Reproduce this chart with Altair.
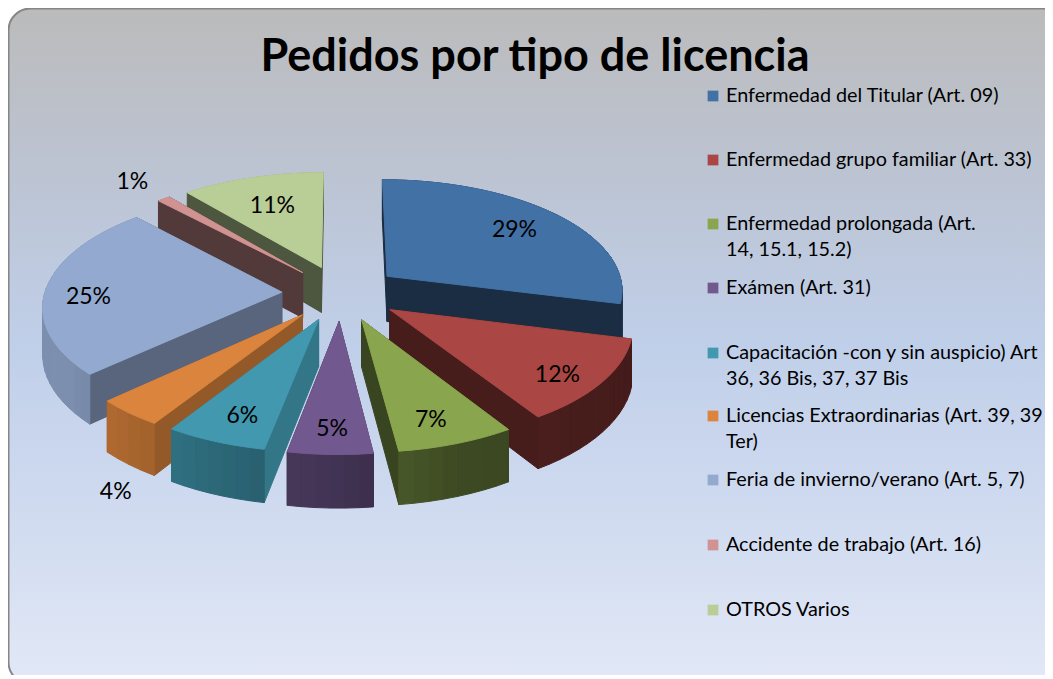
import math
import altair as alt

title_text = "Pedidos por tipo de licencia"
legend_lines = [
    ["Enfermedad del Titular (Art. 09)"],
    ["Enfermedad grupo familiar (Art. 33)"],
    ["Enfermedad prolongada (Art.", "14, 15.1, 15.2)"],
    ["Exámen (Art. 31)"],
    ["Capacitación -con y sin auspicio) Art", "36, 36 Bis, 37, 37 Bis"],
    ["Licencias Extraordinarias (Art. 39, 39", "Ter)"],
    ["Feria de invierno/verano (Art. 5, 7)"],
    ["Accidente de trabajo (Art. 16)"],
    ["OTROS Varios"],
]
shares = [29, 12, 7, 5, 6, 4, 25, 1, 11]
colors = ["#4271A6", "#AA4643", "#89A54E", "#71588F", "#4198AF",
          "#DB843D", "#93A9CF", "#D19392", "#B9CD96"]
side_shade = [0.40, 0.42, 0.42, 0.55, 0.78, 0.68, 0.60, 0.40, 0.42]
label_radius = [0.74, 0.80, 0.75, 0.81, 0.76, 1.07, 0.82, 1.25, 0.69]
label_drop = [0, 8, 10, 2, 6, 71, 8, 0, 2]

# Page pixels minus the 8 px page margin
CX, CY, RX, RY, PERSP, EXPLODE, DEPTH = 333, 285, 237, 111, 0.113, 0.25, 46
LEG_X, LEG_TEXT_X = 705, 718
LEG_ROWS = [88, 152, 216, 280, 345, 408, 472, 537, 602]


def scale_of(Y):
    return 1 / (1 + PERSP * Y)


def project(X, Y):
    s = scale_of(Y)
    return CX + RX * X * s, CY - RY * Y * s, s


def shade(hex_color, f):
    r, g, b = [int(hex_color[i:i + 2], 16) for i in (1, 3, 5)]
    return "#%02x%02x%02x" % (int(r * f), int(g * f), int(b * f))


def rim_factor(t):
    knots = [(0, .4), (90, .4), (135, .42), (160, .45), (180, .58), (200, .68), (235, .85), (360, .85)]
    for (a, fa), (b, fb) in zip(knots, knots[1:]):
        if a <= t <= b:
            return fa + (fb - fa) * (t - a) / (b - a)
    return .5


def feature(points, fill):
    ring = [[round(x, 2), round(y, 2)] for x, y in points]
    ring.append(ring[0])
    return {"type": "Feature", "properties": {"fill": fill},
            "geometry": {"type": "Polygon", "coordinates": [ring]}}


slices = []
cum = 0
for i, v in enumerate(shares):
    start, end = cum * 3.6, (cum + v) * 3.6
    cum += v
    mid = math.radians((start + end) / 2)
    ax, ay = EXPLODE * math.sin(mid), EXPLODE * math.cos(mid)
    slices.append(dict(i=i, start=start, end=end, mid=mid, ax=ax, ay=ay))

features = []
for sl in sorted(slices, key=lambda d: -d["ay"]):
    col = colors[sl["i"]]
    ax, ay = sl["ax"], sl["ay"]

    def rim(t_deg):
        t = math.radians(t_deg)
        return ax + math.sin(t), ay + math.cos(t)

    n = max(2, int((sl["end"] - sl["start"]) / 3))
    angles = [sl["start"] + (sl["end"] - sl["start"]) * j / n for j in range(n + 1)]

    quads = []
    for a, b in zip(angles, angles[1:]):
        X0, Y0 = rim(a)
        X1, Y1 = rim(b)
        x0, y0, s0 = project(X0, Y0)
        x1, y1, s1 = project(X1, Y1)
        quads.append(((Y0 + Y1) / 2,
                      [(x0, y0), (x1, y1), (x1, y1 + DEPTH * s1), (x0, y0 + DEPTH * s0)],
                      shade(col, rim_factor((a + b) / 2))))
    px, py, ps = project(ax, ay)
    for t in (sl["start"], sl["end"]):
        X1, Y1 = rim(t)
        x1, y1, s1 = project(X1, Y1)
        quads.append(((ay + Y1) / 2,
                      [(px, py), (x1, y1), (x1, y1 + DEPTH * s1), (px, py + DEPTH * ps)],
                      shade(col, side_shade[sl["i"]])))
    for _, pts, fill in sorted(quads, key=lambda q: -q[0]):
        features.append(feature(pts, fill))

    top = [(px, py)]
    for a in angles:
        X1, Y1 = rim(a)
        x1, y1, _ = project(X1, Y1)
        top.append((x1, y1))
    features.append(feature(top, col))

labels = []
for sl in slices:
    r = label_radius[sl["i"]]
    x, y, _ = project(sl["ax"] + r * math.sin(sl["mid"]), sl["ay"] + r * math.cos(sl["mid"]))
    labels.append({"px": x, "py": y + label_drop[sl["i"]], "t": f"{shares[sl['i']]}%"})

legend_rows = [{"sx": LEG_X, "tx": LEG_TEXT_X, "y": y, "by": y + 6, "lines": l, "c": c}
               for y, l, c in zip(LEG_ROWS, legend_lines, colors)]

FONT = "Lato"

background = alt.Chart(alt.Data(values=[{"a": 1}])).mark_rect(
    cornerRadius=22,
    stroke="#868686",
    strokeWidth=2,
    fill=alt.Gradient(
        gradient="linear", x1=0, x2=0, y1=0, y2=1,
        stops=[
            alt.GradientStop(offset=0.0, color="#bbbbbb"),
            alt.GradientStop(offset=0.25, color="#bcc4d3"),
            alt.GradientStop(offset=0.5, color="#c0cfe9"),
            alt.GradientStop(offset=0.75, color="#d0dbf0"),
            alt.GradientStop(offset=1.0, color="#e2e8f6"),
        ],
    ),
).encode(x=alt.value(0.5), x2=alt.value(1100), y=alt.value(0.5), y2=alt.value(676))

pie = alt.Chart(alt.Data(values=features)).mark_geoshape(strokeWidth=1).encode(
    fill=alt.Fill("properties.fill:N", scale=None, legend=None),
    stroke=alt.Stroke("properties.fill:N", scale=None, legend=None),
).project(type="identity", scale=1, translate=[0, 0])

label_layer = alt.Chart(alt.Data(values=labels)).mark_text(
    font=FONT, fontSize=23, color="#000000", align="center", baseline="middle"
).encode(x=alt.X("px:Q", scale=None, axis=None), y=alt.Y("py:Q", scale=None, axis=None), text="t:N")

title_layer = alt.Chart(alt.Data(values=[{"t": title_text}])).mark_text(
    font=FONT, fontSize=45, fontWeight="bold", color="#000000", align="center", baseline="alphabetic"
).encode(x=alt.value(527), y=alt.value(63), text="t:N")

swatches = alt.Chart(alt.Data(values=legend_rows)).mark_square(size=115, opacity=1).encode(
    x=alt.X("sx:Q", scale=None, axis=None),
    y=alt.Y("y:Q", scale=None, axis=None),
    fill=alt.Fill("c:N", scale=None, legend=None),
)

legend_text = alt.Chart(alt.Data(values=legend_rows)).mark_text(
    font=FONT, fontSize=19.8, color="#000000", align="left", baseline="alphabetic", lineHeight=26
).encode(
    x=alt.X("tx:Q", scale=None, axis=None),
    y=alt.Y("by:Q", scale=None, axis=None),
    text="lines:N",
)

chart = alt.layer(background, pie, label_layer, title_layer, swatches, legend_text).properties(
    width=1037, height=667, padding=0, background="#ffffff",
    autosize=alt.AutoSizeParams(type="none"),
).configure_view(stroke=None)

chart.save("out.html", embed_options={"renderer": "svg", "actions": False})
